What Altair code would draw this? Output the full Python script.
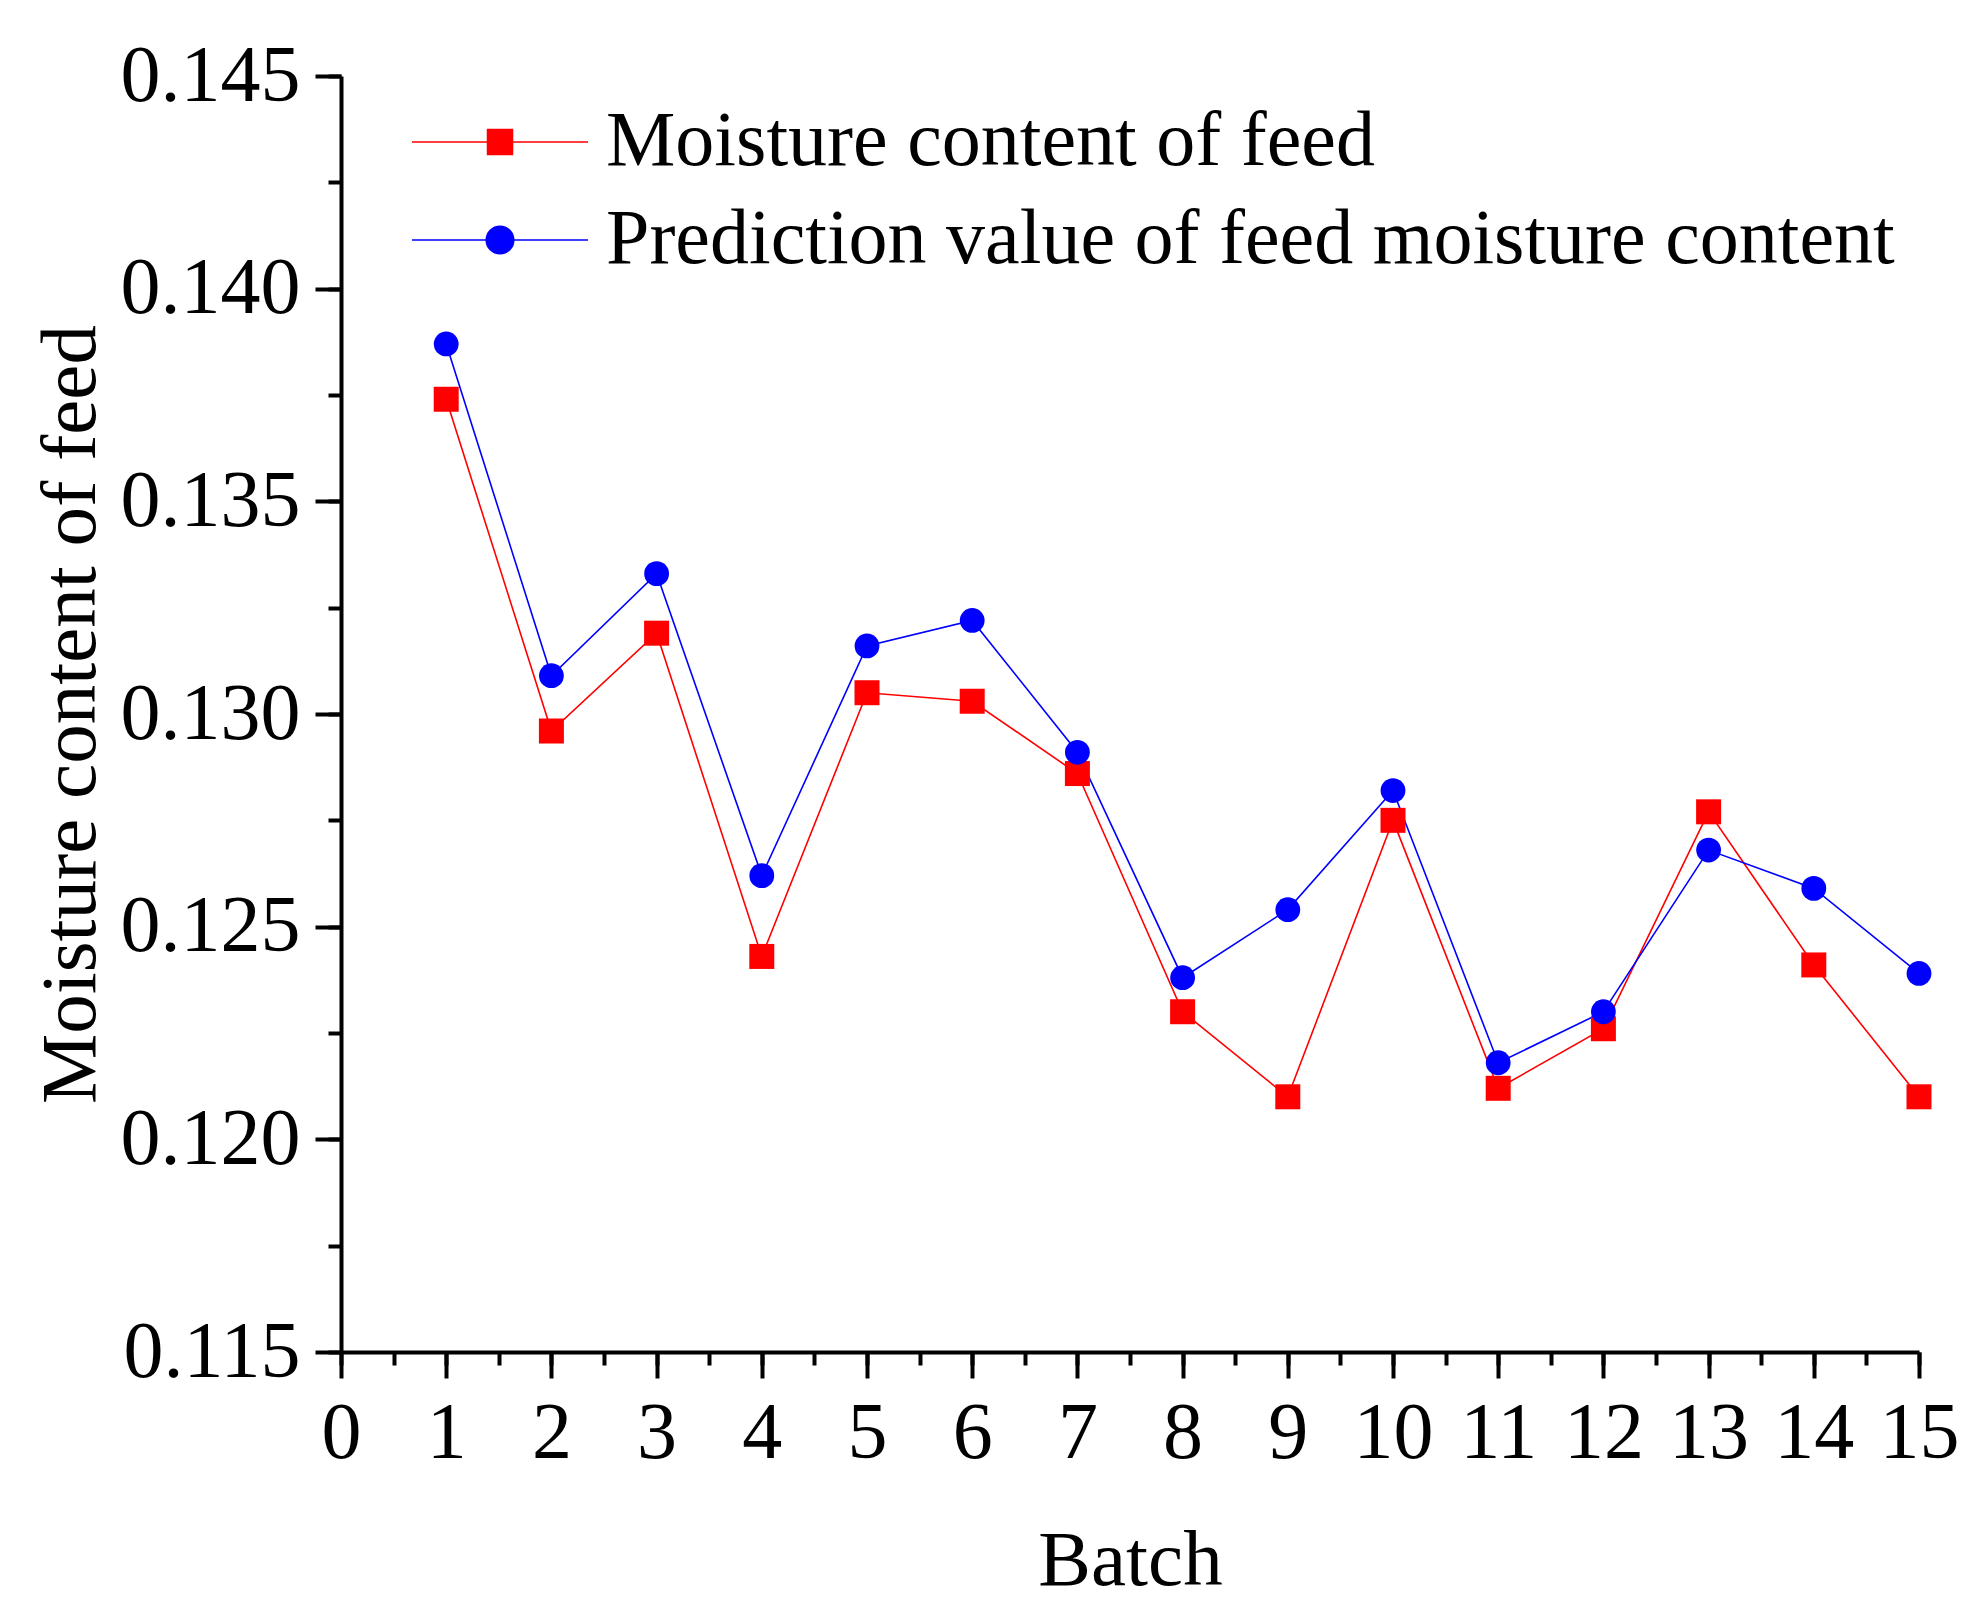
import altair as alt
import pandas as pd

# ---------------- data ----------------
batches = list(range(1, 16))
measured = [0.1374, 0.1296, 0.1319, 0.1243, 0.1305, 0.1303, 0.1286, 0.1230,
            0.1210, 0.1275, 0.1212, 0.1226, 0.1277, 0.1241, 0.1210]
predicted = [0.1387, 0.1309, 0.1333, 0.1262, 0.1316, 0.1322, 0.1291, 0.1238,
             0.1254, 0.1282, 0.1218, 0.1230, 0.1268, 0.1259, 0.1239]
series_names = ["Moisture content of feed", "Prediction value of feed moisture content"]
series_colors = ["#ff0000", "#0000ff"]
x_ticks = list(range(0, 16))
x_minor = [i / 2 for i in range(0, 31)]
y_ticks = [0.115, 0.120, 0.125, 0.130, 0.135, 0.140, 0.145]
y_minor = [round(0.115 + 0.0025 * i, 5) for i in range(13)]

rows = []
for b, m, p in zip(batches, measured, predicted):
    rows.append({"batch": b, "value": m, "series": series_names[0]})
    rows.append({"batch": b, "value": p, "series": series_names[1]})
df = pd.DataFrame(rows)

FONT = "Liberation Serif"
W, H = 1578, 1276

x_scale = alt.Scale(domain=[0, 15], nice=False, zero=False)
y_scale = alt.Scale(domain=[0.115, 0.145], nice=False, zero=False)

# legend symbols: line with marker (custom paths)
sq_path = "M-4.4,0H4.4M-0.625,-0.625H0.625V0.625H-0.625Z"
ci_path = ("M-4.4,0H4.4M-0.69,0A0.69,0.69,0,1,0,0.69,0"
           "A0.69,0.69,0,1,0,-0.69,0Z")

major_x = alt.Axis(orient="bottom", values=x_ticks, format="d", tickSize=26,
                   labelPadding=16, grid=False, labelFlush=False, labelOverlap=False,
                   titleX=W / 2, titleY=232, titleBaseline="alphabetic", titleAlign="center")
major_y = alt.Axis(orient="left", values=y_ticks, format=".3f", tickSize=26,
                   labelPadding=15, grid=False, labelOverlap=False,
                   titleX=-271, titleY=H / 2, titleAngle=270, titleBaseline="middle",
                   titleAlign="center")
minor_x = alt.Axis(orient="bottom", values=x_minor, tickSize=13, labels=False,
                   domain=False, grid=False)
minor_y = alt.Axis(orient="left", values=y_minor, tickSize=13, labels=False,
                   domain=False, grid=False)

base = alt.Chart(df)
red = base.transform_filter(alt.datum.series == series_names[0])
blue = base.transform_filter(alt.datum.series == series_names[1])

line_red = red.mark_line(strokeWidth=1.6, color=series_colors[0]).encode(
    x=alt.X("batch:Q", scale=x_scale, axis=major_x, title="Batch"),
    y=alt.Y("value:Q", scale=y_scale, axis=major_y, title="Moisture content of feed"),
)
line_blue = blue.mark_line(strokeWidth=1.6, color=series_colors[1]).encode(
    x=alt.X("batch:Q", scale=x_scale, axis=None),
    y=alt.Y("value:Q", scale=y_scale, axis=None),
)

red_pts = red.mark_point(
    shape="square", filled=True, size=625, color=series_colors[0], opacity=1
).encode(
    x=alt.X("batch:Q", scale=x_scale, axis=minor_x, title=None),
    y=alt.Y("value:Q", scale=y_scale, axis=minor_y, title=None),
)

blue_pts = blue.mark_point(
    shape="circle", filled=True, size=615, color=series_colors[1], opacity=1
).encode(
    x=alt.X("batch:Q", scale=x_scale, axis=None),
    y=alt.Y("value:Q", scale=y_scale, axis=None),
)

leg = alt.Legend(title=None, orient="none", legendX=120, legendY=27, padding=0,
                 labelFont=FONT, labelFontSize=78, labelColor="black", labelLimit=3000,
                 labelOffset=67, rowPadding=20, symbolSize=1600, symbolStrokeWidth=1.5,
                 symbolOpacity=1)

legend_layer = base.transform_filter("datum.batch < 0").mark_point(
    filled=True, size=1600, strokeWidth=1.5
).encode(
    x=alt.X("batch:Q", scale=x_scale, axis=None),
    y=alt.Y("value:Q", scale=y_scale, axis=None),
    fill=alt.Fill("series:N", scale=alt.Scale(domain=series_names, range=series_colors), legend=leg),
    stroke=alt.Stroke("series:N", scale=alt.Scale(domain=series_names, range=series_colors), legend=leg),
    shape=alt.Shape("series:N", scale=alt.Scale(domain=series_names, range=[sq_path, ci_path]), legend=leg),
)

chart = alt.layer(line_red, line_blue, red_pts, blue_pts, legend_layer).resolve_axis(
    x="independent", y="independent"
).properties(
    width=W, height=H,
    autosize=alt.AutoSizeParams(type="none"),
    padding={"left": 333, "top": 68, "right": 50, "bottom": 256},
    background="white",
).configure_view(stroke=None).configure_axis(
    labelFont=FONT, labelFontSize=80, labelColor="black", labelLimit=2000,
    titleFont=FONT, titleFontSize=79, titleColor="black", titleFontWeight="normal",
    titleLimit=3000,
    domainColor="black", domainWidth=4, tickColor="black", tickWidth=4,
)

chart.save("out.html", embed_options={"renderer": "svg", "actions": False})
